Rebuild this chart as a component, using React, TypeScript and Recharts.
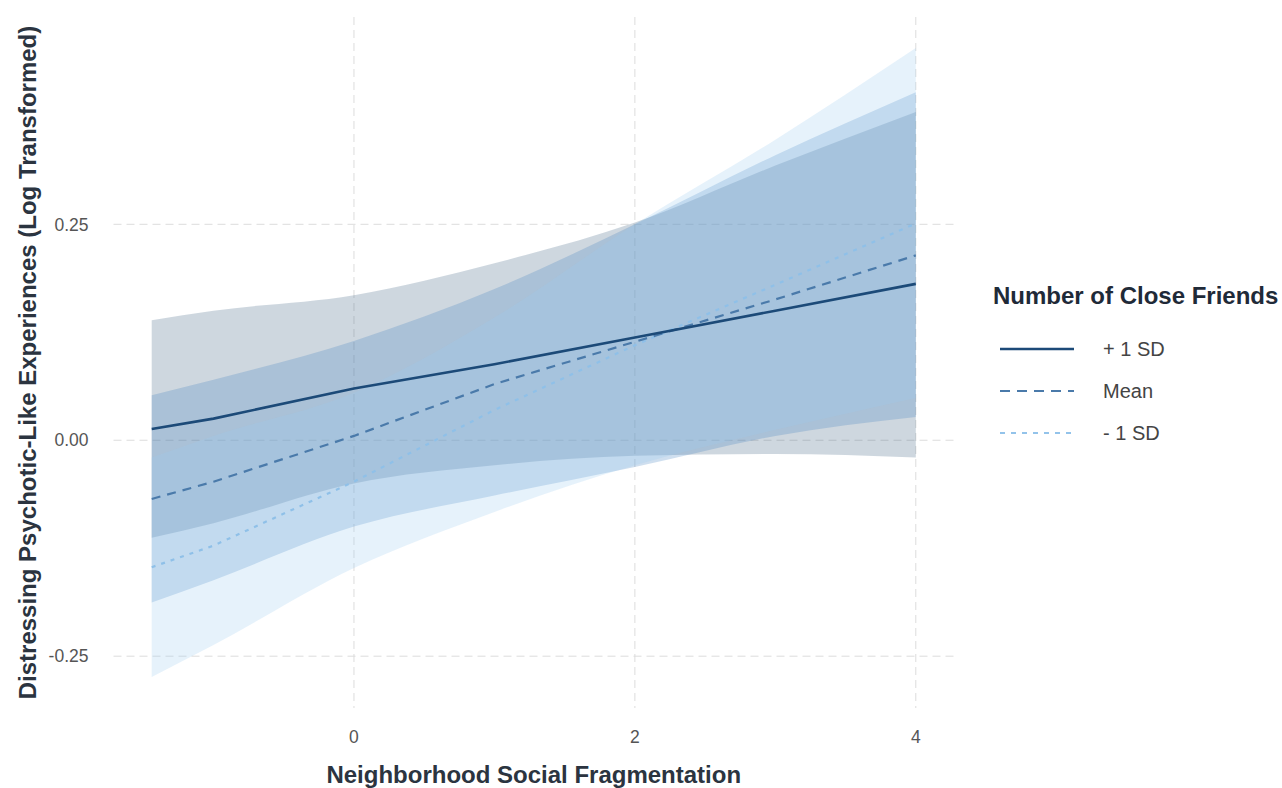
import { ComposedChart, Area, Line, CartesianGrid, XAxis, YAxis, Label } from "recharts";

// x positions (data starts at about -1.44)
const xs = [-1.44, -1, 0, 1, 2, 3, 4];

// fitted lines
const plusLine = [0.013, 0.025, 0.06, 0.088, 0.119, 0.15, 0.181];
const meanLine = [-0.068, -0.048, 0.005, 0.065, 0.114, 0.163, 0.214];
const minusLine = [-0.147, -0.122, -0.048, 0.035, 0.11, 0.18, 0.251];

// confidence ribbons (low / high)
const plusLow = [-0.113, -0.096, -0.05, -0.029, -0.018, -0.016, -0.02];
const plusHigh = [0.139, 0.15, 0.168, 0.205, 0.252, 0.318, 0.38];
const meanLow = [-0.188, -0.162, -0.1, -0.064, -0.031, 0.005, 0.027];
const meanHigh = [0.052, 0.07, 0.115, 0.175, 0.25, 0.33, 0.403];
const minusLow = [-0.274, -0.237, -0.148, -0.083, -0.029, 0.012, 0.049];
const minusHigh = [-0.02, 0.005, 0.055, 0.142, 0.25, 0.348, 0.454];

const xTicks = [0, 2, 4];
const yTicks = [-0.25, 0, 0.25];

const legendItems = [
  { label: "+ 1 SD", color: "#1c4a78", dash: "", width: 2.6 },
  { label: "Mean", color: "#4a7aaa", dash: "10 7", width: 2.2 },
  { label: "- 1 SD", color: "#93c3ea", dash: "5 6", width: 2.2 },
];

const data = xs.map((x, i) => ({
  x,
  plus: plusLine[i],
  mean: meanLine[i],
  minus: minusLine[i],
  plusBand: [plusLow[i], plusHigh[i]],
  meanBand: [meanLow[i], meanHigh[i]],
  minusBand: [minusLow[i], minusHigh[i]],
}));

const font = '"Liberation Sans", Arial, sans-serif';

export default function App() {
  return (
    <div style={{ position: "absolute", left: 0, top: 0, width: 1282, height: 788, background: "#fff", fontFamily: font }}>
      <ComposedChart
        width={1282}
        height={788}
        data={data}
        margin={{ top: 17, right: 328, bottom: 0, left: 0 }}
      >
        <CartesianGrid
          stroke="#dcdcdc"
          strokeDasharray="8 5"
          horizontalValues={yTicks}
          verticalValues={xTicks}
        />
        <XAxis
          dataKey="x"
          type="number"
          domain={[-1.712, 4.272]}
          ticks={xTicks}
          allowDataOverflow
          height={80}
          axisLine={false}
          tickLine={false}
          tickSize={0}
          tickMargin={23}
          tick={{ fill: "#555", fontSize: 17.5, fontFamily: font }}
        >
          <Label
            value="Neighborhood Social Fragmentation"
            position="insideBottom"
            offset={5}
            style={{ fill: "#2b3440", fontSize: 24, fontWeight: "bold", fontFamily: font }}
          />
        </XAxis>
        <YAxis
          type="number"
          domain={[-0.31, 0.49]}
          ticks={yTicks}
          allowDataOverflow
          width={113.5}
          axisLine={false}
          tickLine={false}
          tickSize={0}
          tickMargin={25}
          tickFormatter={(v: number) => v.toFixed(2)}
          tick={{ fill: "#555", fontSize: 17.5, fontFamily: font }}
        >
          <Label
            value="Distressing Psychotic-Like Experiences (Log Transformed)"
            angle={-90}
            position="insideLeft"
            offset={27}
            style={{ fill: "#2b3440", fontSize: 24, fontWeight: "bold", fontFamily: font, textAnchor: "middle" }}
          />
        </YAxis>
        <Area dataKey="plusBand" type="monotone" stroke="none" fill="#3d5f80" fillOpacity={0.25} isAnimationActive={false} />
        <Area dataKey="meanBand" type="monotone" stroke="none" fill="#3f7fbf" fillOpacity={0.25} isAnimationActive={false} />
        <Area dataKey="minusBand" type="monotone" stroke="none" fill="#9ccbf0" fillOpacity={0.25} isAnimationActive={false} />
        <Line dataKey="minus" type="linear" stroke="#8fc0e8" strokeWidth={2.2} strokeDasharray="4 6" dot={false} isAnimationActive={false} />
        <Line dataKey="mean" type="linear" stroke="#4a7aaa" strokeWidth={2.2} strokeDasharray="9 7" dot={false} isAnimationActive={false} />
        <Line dataKey="plus" type="linear" stroke="#1c4a78" strokeWidth={2.6} dot={false} isAnimationActive={false} />
      </ComposedChart>

      <div style={{ position: "absolute", left: 993, top: 282, fontSize: 24, fontWeight: "bold", color: "#1f2a38", whiteSpace: "nowrap" }}>
        Number of Close Friends
      </div>
      {legendItems.map((item, i) => (
        <div key={item.label} style={{ position: "absolute", left: 998, top: 337 + i * 42, height: 24, display: "flex", alignItems: "center" }}>
          <svg width={78} height={24}>
            <line x1={2} y1={12} x2={76} y2={12} stroke={item.color} strokeWidth={item.width} strokeDasharray={item.dash} />
          </svg>
          <span style={{ marginLeft: 27, fontSize: 20, color: "#444", whiteSpace: "nowrap" }}>{item.label}</span>
        </div>
      ))}
    </div>
  );
}
